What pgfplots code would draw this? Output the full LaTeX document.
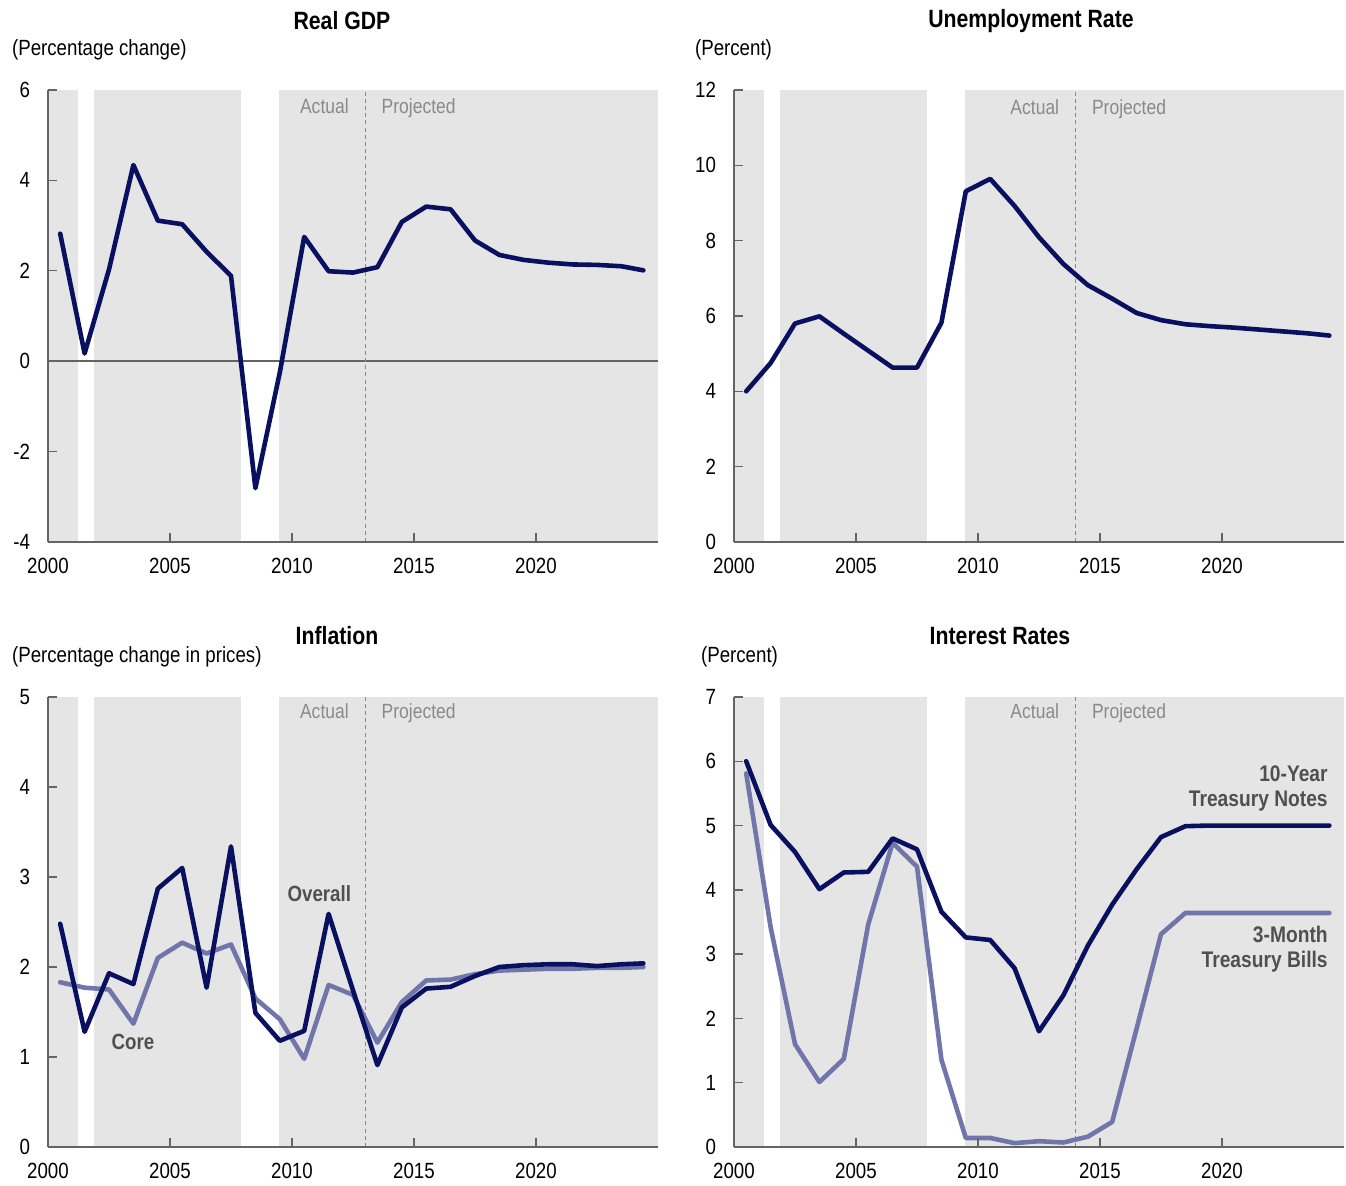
\documentclass[border=0pt]{standalone}
\usepackage{fontspec}
\setmainfont{Liberation Sans}[FakeStretch=0.85]
\usepackage{pgfplots}
\pgfplotsset{compat=1.18}

\definecolor{navy}{RGB}{10,16,96}
\definecolor{lilac}{RGB}{112,118,170}
\definecolor{bggray}{RGB}{229,229,229}
\definecolor{axisgray}{RGB}{100,100,100}
\definecolor{notegray}{RGB}{138,138,138}
\definecolor{labgray}{RGB}{80,80,80}

\newcommand{\recshade}[2]{%
  \fill[bggray] (axis cs:2000,#1) rectangle (axis cs:2001.21,#2);
  \fill[bggray] (axis cs:2001.87,#1) rectangle (axis cs:2007.92,#2);
  \fill[bggray] (axis cs:2009.46,#1) rectangle (axis cs:2025,#2);
}
\newcommand{\splitline}[4]{% year, ymin, ymax, text baseline y
  \draw[notegray, line width=0.6pt, dash pattern=on 2pt off 1.6pt] (axis cs:#1,#2) -- (axis cs:#1,#3);
  \node[anchor=base east, text=notegray, font=\fontsize{10.3}{12}\selectfont, xshift=-4.7pt] at (axis cs:#1,#4) {Actual};
  \node[anchor=base west, text=notegray, font=\fontsize{10.3}{12}\selectfont, xshift=4.7pt] at (axis cs:#1,#4) {Projected};
}

\pgfplotsset{
  cbo/.style={
    scale only axis, width=305pt,
    xmin=2000, xmax=2025,
    axis on top,
    axis x line*=bottom, axis y line*=left,
    axis line style={draw=axisgray, line width=0.7pt, -},
    xtick={2000,2005,...,2020},
    tick align=inside,
    major tick length=4.5pt,
    tick style={draw=axisgray, line width=0.7pt},
    x tick label style={yshift=-4.5pt},
    y tick label style={xshift=-5.5pt},
    /pgf/number format/1000 sep={},
    /pgf/number format/assume math mode=true,
    ticklabel style={font=\fontsize{11}{13}\selectfont},
  },
  dark/.style={navy, line width=2.3pt, line join=round, line cap=round, mark=none},
  light/.style={lilac, line width=2.3pt, line join=round, line cap=round, mark=none},
}

\begin{document}
\begin{tikzpicture}
\useasboundingbox (0,0) rectangle (673pt,593pt);

% titles and unit labels
\node[font=\bfseries\fontsize{12.5}{14}\selectfont] at (171pt,582.5pt) {Real GDP};
\node[anchor=west, font=\fontsize{11}{13}\selectfont] at (2.5pt,568pt) {(Percentage change)};
\node[font=\bfseries\fontsize{12.5}{14}\selectfont] at (515.5pt,582.5pt) {Unemployment Rate};
\node[anchor=west, font=\fontsize{11}{13}\selectfont] at (344pt,568pt) {(Percent)};
\node[font=\bfseries\fontsize{12.5}{14}\selectfont] at (168.5pt,275pt) {Inflation};
\node[anchor=west, font=\fontsize{11}{13}\selectfont] at (2.5pt,264.5pt) {(Percentage change in prices)};
\node[font=\bfseries\fontsize{12.5}{14}\selectfont] at (500pt,275pt) {Interest Rates};
\node[anchor=west, font=\fontsize{11}{13}\selectfont] at (347pt,264.5pt) {(Percent)};

% Real GDP
\begin{axis}[cbo, at={(24pt,322pt)}, anchor=south west, height=226pt,
  ymin=-4, ymax=6, ytick={-4,-2,...,6}]
\recshade{-4}{6}
\draw[axisgray, line width=0.7pt] (axis cs:2000,0) -- (axis cs:2025,0);
\splitline{2013}{-4}{6}{5.47}
\addplot[dark] coordinates {
(2000.5,2.82) (2001.5,0.17) (2002.5,2.03) (2003.5,4.34) (2004.5,3.11)
(2005.5,3.03) (2006.5,2.42) (2007.5,1.89) (2008.5,-2.81) (2009.5,-0.25)
(2010.5,2.75) (2011.5,1.99) (2012.5,1.96) (2013.5,2.08) (2014.5,3.08)
(2015.5,3.42) (2016.5,3.36) (2017.5,2.67) (2018.5,2.35) (2019.5,2.24)
(2020.5,2.18) (2021.5,2.14) (2022.5,2.13) (2023.5,2.10) (2024.4,2.01)};
\end{axis}

% Unemployment
\begin{axis}[cbo, at={(367pt,322pt)}, anchor=south west, height=226pt,
  ymin=0, ymax=12, ytick={0,2,...,12}]
\recshade{0}{12}
\splitline{2014}{0}{12}{11.36}
\addplot[dark] coordinates {
(2000.5,4.00) (2001.5,4.75) (2002.5,5.80) (2003.5,5.99) (2004.5,5.53)
(2005.5,5.08) (2006.5,4.63) (2007.5,4.63) (2008.5,5.82) (2009.5,9.31)
(2010.5,9.64) (2011.5,8.92) (2012.5,8.09) (2013.5,7.38) (2014.5,6.82)
(2015.5,6.46) (2016.5,6.08) (2017.5,5.89) (2018.5,5.78) (2019.5,5.73)
(2020.5,5.69) (2021.5,5.64) (2022.5,5.59) (2023.5,5.54) (2024.4,5.48)};
\end{axis}

% Inflation
\begin{axis}[cbo, at={(24pt,19.5pt)}, anchor=south west, height=225pt,
  ymin=0, ymax=5, ytick={0,1,...,5}]
\recshade{0}{5}
\splitline{2013}{0}{5}{4.76}
\addplot[light] coordinates {
(2000.5,1.83) (2001.5,1.77) (2002.5,1.75) (2003.5,1.37) (2004.5,2.10)
(2005.5,2.27) (2006.5,2.15) (2007.5,2.25) (2008.5,1.65) (2009.5,1.42)
(2010.5,0.98) (2011.5,1.80) (2012.5,1.69) (2013.5,1.16) (2014.5,1.61)
(2015.5,1.85) (2016.5,1.86) (2017.5,1.92) (2018.5,1.96) (2019.5,1.97)
(2020.5,1.98) (2021.5,1.98) (2022.5,1.99) (2023.5,1.99) (2024.4,2.00)};
\addplot[dark] coordinates {
(2000.5,2.48) (2001.5,1.28) (2002.5,1.93) (2003.5,1.81) (2004.5,2.87)
(2005.5,3.10) (2006.5,1.77) (2007.5,3.34) (2008.5,1.49) (2009.5,1.18)
(2010.5,1.29) (2011.5,2.59) (2012.5,1.74) (2013.5,0.91) (2014.5,1.55)
(2015.5,1.76) (2016.5,1.78) (2017.5,1.90) (2018.5,2.00) (2019.5,2.02)
(2020.5,2.03) (2021.5,2.03) (2022.5,2.01) (2023.5,2.03) (2024.4,2.04)};
\node[text=labgray, font=\bfseries\fontsize{11}{13}\selectfont] at (axis cs:2011.12,2.82) {Overall};
\node[text=labgray, font=\bfseries\fontsize{11}{13}\selectfont] at (axis cs:2003.48,1.17) {Core};
\end{axis}

% Interest rates
\begin{axis}[cbo, at={(367pt,19.5pt)}, anchor=south west, height=225pt,
  ymin=0, ymax=7, ytick={0,1,...,7}]
\recshade{0}{7}
\splitline{2014}{0}{7}{6.66}
\addplot[light] coordinates {
(2000.5,5.81) (2001.5,3.42) (2002.5,1.60) (2003.5,1.01) (2004.5,1.37)
(2005.5,3.46) (2006.5,4.73) (2007.5,4.36) (2008.5,1.36) (2009.5,0.14)
(2010.5,0.14) (2011.5,0.06) (2012.5,0.09) (2013.5,0.07) (2014.5,0.16)
(2015.5,0.39) (2016.5,1.84) (2017.5,3.31) (2018.5,3.64) (2019.5,3.64)
(2020.5,3.64) (2021.5,3.64) (2022.5,3.64) (2023.5,3.64) (2024.4,3.64)};
\addplot[dark] coordinates {
(2000.5,6.00) (2001.5,5.01) (2002.5,4.59) (2003.5,4.01) (2004.5,4.27)
(2005.5,4.28) (2006.5,4.80) (2007.5,4.63) (2008.5,3.66) (2009.5,3.26)
(2010.5,3.22) (2011.5,2.78) (2012.5,1.80) (2013.5,2.36) (2014.5,3.13)
(2015.5,3.77) (2016.5,4.32) (2017.5,4.82) (2018.5,4.99) (2019.5,5.00)
(2020.5,5.00) (2021.5,5.00) (2022.5,5.00) (2023.5,5.00) (2024.4,5.00)};
\node[anchor=east, align=right, text=labgray, font=\bfseries\fontsize{11.3}{12.5}\selectfont] at (axis cs:2024.62,5.58) {10-Year\\Treasury Notes};
\node[anchor=east, align=right, text=labgray, font=\bfseries\fontsize{11.3}{12.5}\selectfont] at (axis cs:2024.62,3.08) {3-Month\\Treasury Bills};
\end{axis}
\end{tikzpicture}
\end{document}
